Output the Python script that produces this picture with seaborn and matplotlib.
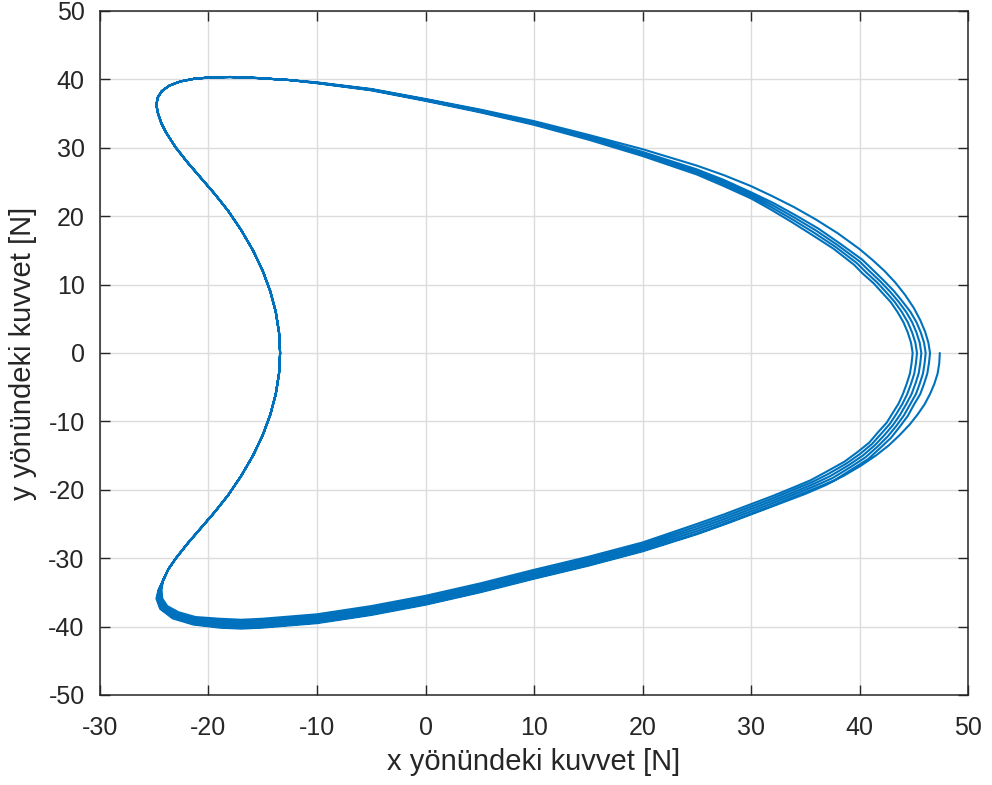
import numpy as np
import pandas as pd
import seaborn as sns
import matplotlib
matplotlib.use("Agg")
import matplotlib.pyplot as plt

# ---- data (x, y in N) ----
# first (outermost) lower half, starting at the right tip
start_x = [47.4, 47.35, 47.2, 46.9, 46.5, 46.0, 45.35, 44.6, 43.7, 42.7, 41.5, 40.1, 38.6, 36.9, 35.0, 33.0, 31.0, 28.0,
           25.0, 20.0, 15.0, 10.0, 5.0, 0.0, -5.0, -10.0, -15.0, -17.0, -19.0, -21.4, -23.3, -24.45, -24.8, -24.6]
start_y = [0.0, -1.5, -3.0, -4.5, -6.0, -7.5, -9.0, -10.5, -12.0, -13.5, -15.0, -16.5, -17.9, -19.3, -20.6, -21.8, -23.0, -24.8,
           -26.5, -29.0, -31.1, -33.0, -35.0, -36.8, -38.3, -39.5, -40.15, -40.3, -40.15, -39.7, -38.8, -37.4, -35.9, -34.6]

# left side, common to every loop (bottom-left up to top-left)
left_x = [-24.2, -23.7, -23.0, -21.9, -20.7, -19.4, -18.2, -17.0, -15.9, -15.0, -14.3, -13.8, -13.5, -13.4,
          -13.5, -13.8, -14.3, -15.0, -15.9, -17.0, -18.2, -19.4, -20.7, -21.9, -23.0, -23.9, -24.35, -24.65,
          -24.8, -24.7, -24.3, -23.6, -22.6, -21.3, -19.7, -18.0, -15.5, -12.5]
left_y = [-33.3, -31.6, -30.0, -27.8, -25.6, -23.2, -20.8, -18.0, -15.0, -12.0, -9.0, -6.0, -3.0, 0.0,
          3.0, 6.0, 9.0, 12.0, 15.0, 18.0, 20.8, 23.2, 25.6, 27.8, 30.0, 32.2, 33.6, 35.0,
          36.2, 37.3, 38.3, 39.1, 39.7, 40.1, 40.3, 40.35, 40.2, 39.9]

# upper branches (top-left to right tip), loops 1..5
top1_x = [-10, -5, 0, 5, 10, 15, 20, 25, 27.5, 30, 32, 34, 36, 38, 40, 41.2, 42.3, 43.3, 44.2, 45.0, 45.6, 46.05, 46.35, 46.5]
top1_y = [39.56, 38.6, 37.14, 35.6, 33.9, 31.9, 29.8, 27.4, 26.0, 24.4, 22.9, 21.3, 19.5, 17.5, 15.2, 13.6, 12.0, 10.3, 8.5, 6.6, 4.8, 3.1, 1.5, 0.0]
top2_x = [-10, -5, 0, 5, 10, 15, 20, 25, 27.5, 30, 32.1, 34.15, 36.2, 38.2, 40.25, 41.2, 42.2, 43.15, 43.95, 44.7, 45.25, 45.65, 45.95, 46.1]
top2_y = [39.53, 38.55, 37.07, 35.5, 33.72, 31.65, 29.4, 26.85, 25.3, 23.5, 21.9, 20.1, 18.2, 16.0, 13.65, 12.2, 10.65, 9.1, 7.55, 6.0, 4.5, 3.0, 1.5, 0.0]
top3_x = [-10, -5, 0, 5, 10, 15, 20, 25, 27.5, 30, 32, 34, 36, 38, 40, 40.9, 41.9, 42.8, 43.6, 44.3, 44.85, 45.25, 45.55, 45.7]
top3_y = [39.5, 38.5, 37.0, 35.4, 33.6, 31.5, 29.2, 26.6, 25.0, 23.2, 21.6, 19.8, 17.9, 15.75, 13.4, 12.0, 10.5, 9.0, 7.5, 6.0, 4.5, 3.0, 1.5, 0.0]
top4_x = [-10, -5, 0, 5, 10, 15, 20, 25, 27.5, 30, 31.9, 33.85, 35.8, 37.8, 39.75, 40.6, 41.6, 42.45, 43.25, 43.9, 44.45, 44.85, 45.15, 45.3]
top4_y = [39.47, 38.45, 36.93, 35.3, 33.48, 31.35, 29.0, 26.35, 24.7, 22.9, 21.3, 19.5, 17.6, 15.5, 13.15, 11.8, 10.35, 8.9, 7.45, 6.0, 4.5, 3.0, 1.5, 0.0]
top5_x = [-10, -5, 0, 5, 10, 15, 20, 25, 27.5, 30, 31.8, 33.7, 35.6, 37.6, 39.5, 40.3, 41.3, 42.1, 42.9, 43.5, 44.05, 44.45, 44.75, 44.9]
top5_y = [39.44, 38.4, 36.86, 35.2, 33.36, 31.2, 28.8, 26.1, 24.4, 22.6, 21.0, 19.2, 17.3, 15.25, 12.9, 11.6, 10.2, 8.8, 7.4, 6.0, 4.5, 3.0, 1.5, 0.0]

# lower branches (right tip to bottom-left), loops 1..5
bot1_x = [46.4, 46.25, 45.95, 45.6, 45.0, 44.45, 43.7, 42.9, 41.9, 40.8, 39.4, 37.7, 35.9, 34.0, 32.0, 30.0, 27.5, 25.0, 20.0,
          15.0, 10.0, 5.0, 0.0, -5.0, -10.0, -15.0, -17.0, -19.0, -21.4, -23.24, -24.4, -24.74, -24.57]
bot1_y = [-1.5, -3.0, -4.5, -6.0, -7.6, -9.2, -10.8, -12.4, -13.9, -15.5, -16.9, -18.6, -19.8, -21.0, -22.3, -23.5, -25.0, -26.4, -28.9,
          -31.0, -32.9, -34.9, -36.7, -38.2, -39.4, -40.05, -40.2, -40.05, -39.6, -38.7, -37.4, -35.9, -34.6]
bot2_x = [46.0, 45.85, 45.55, 45.2, 44.65, 44.1, 43.4, 42.6, 41.65, 40.55, 39.2, 37.5, 35.8, 34.0, 32.0, 30.0, 27.5, 25.0, 20.0,
          15.0, 10.0, 5.0, 0.0, -5.0, -10.0, -15.0, -17.0, -19.0, -21.35, -23.12, -24.25, -24.62, -24.51]
bot2_y = [-1.5, -3.0, -4.5, -6.0, -7.55, -9.1, -10.65, -12.2, -13.7, -15.25, -16.65, -18.3, -19.5, -20.65, -21.95, -23.15, -24.65, -26.05, -28.6,
          -30.7, -32.6, -34.6, -36.4, -37.9, -39.1, -39.75, -39.9, -39.75, -39.35, -38.5, -37.3, -35.9, -34.6]
bot3_x = [45.6, 45.45, 45.15, 44.8, 44.3, 43.75, 43.1, 42.3, 41.4, 40.3, 39.0, 37.3, 35.7, 34.0, 32.0, 30.0, 27.5, 25.0, 20.0,
          15.0, 10.0, 5.0, 0.0, -5.0, -10.0, -15.0, -17.0, -19.0, -21.3, -23.0, -24.1, -24.5, -24.45]
bot3_y = [-1.5, -3.0, -4.5, -6.0, -7.5, -9.0, -10.5, -12.0, -13.5, -15.0, -16.4, -18.0, -19.2, -20.3, -21.6, -22.8, -24.3, -25.7, -28.3,
          -30.4, -32.3, -34.3, -36.1, -37.6, -38.8, -39.45, -39.6, -39.45, -39.1, -38.3, -37.2, -35.9, -34.6]
bot4_x = [45.2, 45.05, 44.75, 44.4, 43.95, 43.4, 42.8, 42.0, 41.15, 40.05, 38.8, 37.1, 35.6, 34.0, 32.0, 30.0, 27.5, 25.0, 20.0,
          15.0, 10.0, 5.0, 0.0, -5.0, -10.0, -15.0, -17.0, -19.0, -21.25, -22.88, -23.95, -24.38, -24.39]
bot4_y = [-1.5, -3.0, -4.5, -6.0, -7.45, -8.9, -10.35, -11.8, -13.3, -14.75, -16.15, -17.7, -18.9, -19.95, -21.25, -22.45, -23.95, -25.35, -28.0,
          -30.1, -32.0, -34.0, -35.8, -37.3, -38.5, -39.15, -39.3, -39.15, -38.85, -38.1, -37.1, -35.9, -34.6]
bot5_x = [44.8, 44.65, 44.35, 44.0, 43.6, 43.05, 42.5, 41.7, 40.9, 39.8, 38.6, 36.9, 35.5, 34.0, 32.0, 30.0, 27.5, 25.0, 20.0,
          15.0, 10.0, 5.0, 0.0, -5.0, -10.0, -15.0, -17.0, -19.0, -21.2, -22.76, -23.8, -24.26, -24.33]
bot5_y = [-1.5, -3.0, -4.5, -6.0, -7.4, -8.8, -10.2, -11.6, -13.1, -14.5, -15.9, -17.4, -18.6, -19.6, -20.9, -22.1, -23.6, -25.0, -27.7,
          -29.8, -31.7, -33.7, -35.5, -37.0, -38.2, -38.85, -39.0, -38.85, -38.6, -37.9, -37.0, -35.9, -34.6]

x_ticks = [-30, -20, -10, 0, 10, 20, 30, 40, 50]
y_ticks = [-50, -40, -30, -20, -10, 0, 10, 20, 30, 40, 50]
x_label = "x yönündeki kuvvet [N]"
y_label = "y yönündeki kuvvet [N]"

# ---- assemble the trajectory in drawing order ----
tops_x = [top1_x, top2_x, top3_x, top4_x, top5_x]
tops_y = [top1_y, top2_y, top3_y, top4_y, top5_y]
bots_x = [bot1_x, bot2_x, bot3_x, bot4_x, bot5_x]
bots_y = [bot1_y, bot2_y, bot3_y, bot4_y, bot5_y]

xs = list(start_x) + list(left_x)
ys = list(start_y) + list(left_y)
for tx, ty, bx, by in zip(tops_x, tops_y, bots_x, bots_y):
    xs += tx + bx + left_x
    ys += ty + by + left_y

df = pd.DataFrame({"x": xs, "y": ys})

# ---- styling ----
sns.set_style("ticks")
plt.rcParams["font.family"] = ["Liberation Sans", "DejaVu Sans"]
plt.rcParams["axes.unicode_minus"] = False

fig = plt.figure(figsize=(9.92, 7.85), dpi=100)
ax = fig.add_axes([100 / 992, 90 / 785, 868 / 992, 684 / 785])

sns.lineplot(data=df, x="x", y="y", sort=False, estimator=None,
             color="#0072BD", linewidth=1.5, ax=ax)

ax.set_xlim(-30, 50)
ax.set_ylim(-50, 50)
ax.set_xticks(x_ticks)
ax.set_yticks(y_ticks)
ax.grid(True, color="#dcdcdc", linewidth=1.0)
ax.set_axisbelow(True)
for s in ax.spines.values():
    s.set_visible(True)
    s.set_color("#262626")
    s.set_linewidth(1.1)
ax.tick_params(direction="in", top=True, right=True, length=7, width=1.0,
               colors="#262626", labelsize=18, labelcolor="#262626")
ax.tick_params(axis="x", pad=15)
ax.tick_params(axis="y", pad=11)
ax.set_xlabel(x_label, fontsize=21, color="#262626", labelpad=6)
ax.set_ylabel(y_label, fontsize=21, color="#262626", labelpad=8)

fig.savefig("out.png", dpi=100)
